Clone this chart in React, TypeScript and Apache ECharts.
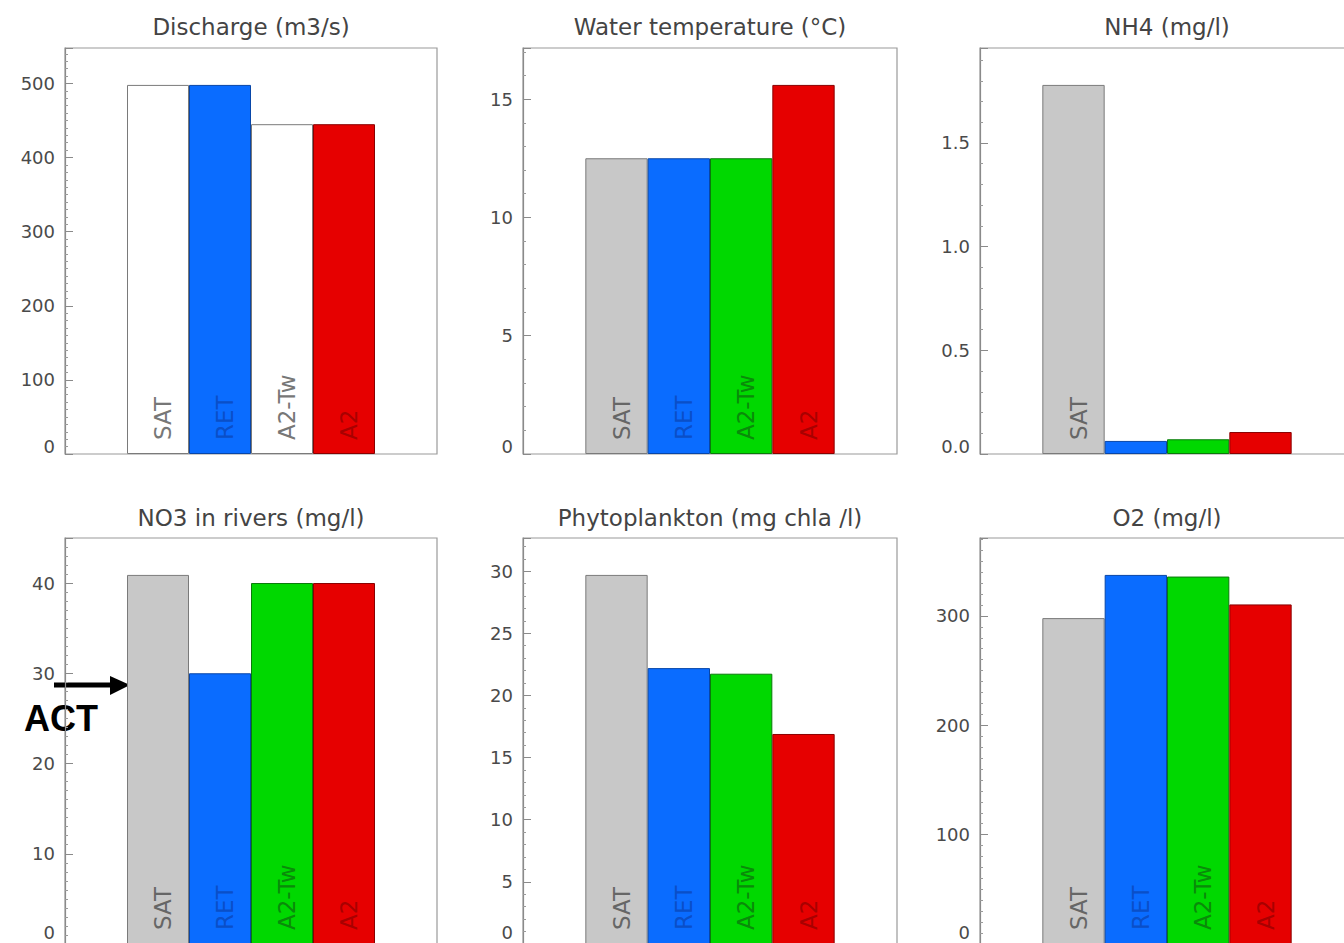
import React, { useEffect, useRef } from "react";
import * as echarts from "echarts";

// ---- data ----
const scenarios = ["SAT", "RET", "A2-Tw", "A2"];
const categories = ["", "SAT", "RET", "A2-Tw", "A2", ""];

const dischargeValues = [498, 498, 445, 445];
const waterTempValues = [12.5, 12.5, 12.5, 15.6];
const nh4Values = [1.78, 0.063, 0.071, 0.106];
const no3Values = [40.9, 30.0, 40.0, 40.0];
const phytoValues = [29.7, 22.2, 21.75, 16.9];
const o2Values = [298, 337.5, 336, 310.5];

const panelTitles = [
  "Discharge (m3/s)",
  "Water temperature (°C)",
  "NH4 (mg/l)",
  "NO3 in rivers (mg/l)",
  "Phytoplankton (mg chla /l)",
  "O2 (mg/l)",
];
const panelValues = [dischargeValues, waterTempValues, nh4Values, no3Values, phytoValues, o2Values];
const panelIntervals = [100, 5, 0.5, 10, 5, 100];
const panelDecimals = [0, 0, 1, 0, 0, 0];
const panelMinorSplits = [10, 5, 5, 10, 5, 10];
// which labels are drawn inside the bars
const panelLabelShown = [
  [true, true, true, true],
  [true, true, true, true],
  [true, false, false, false],
  [true, true, true, true],
  [true, true, true, true],
  [true, true, true, true],
];

// ---- styles ----
const FONT = "DejaVu Sans";
const fillColors = ["#c8c8c8", "#0a6cff", "#00d800", "#e60000"];
const edgeColors = ["#7a7a7a", "#0846a8", "#0a7a0a", "#8a0000"];
const labelColors = ["#666666", "#0a4fc8", "#0a8a0a", "#a80000"];
const dischargeFill = ["#ffffff", "#0a6cff", "#ffffff", "#e60000"];
const dischargeEdge = ["#7a7a7a", "#0846a8", "#7a7a7a", "#8a0000"];
const dischargeLabel = ["#777777", "#0a4fc8", "#777777", "#a80000"];

const colLeft = [65, 523, 980];
const colWidth = [372, 374, 374];
const rowTop = [48, 538];
const rowHeight = [406, 406];
const titleY = [27, 518];
const zeroLabelLift = [16, 24];

const CW = 1360;
const CH = 960;

export default function App() {
  const ref = useRef<HTMLDivElement>(null);
  useEffect(() => {
    if (!ref.current) return;
    const chart = echarts.init(ref.current, null, { renderer: "svg" });

    const grids: any[] = [];
    const xAxes: any[] = [];
    const yAxes: any[] = [];
    const series: any[] = [];
    const graphics: any[] = [];

    panelValues.forEach((vals, i) => {
      const r = Math.floor(i / 3);
      const c = i % 3;
      grids.push({
        left: colLeft[c],
        top: rowTop[r],
        width: colWidth[c],
        height: rowHeight[r],
        show: true,
        borderColor: "#9a9a9a",
        borderWidth: 1.2,
        backgroundColor: "transparent",
      });
      xAxes.push({
        type: "category",
        gridIndex: i,
        data: categories,
        boundaryGap: true,
        axisLine: { show: false },
        axisTick: { show: false },
        axisLabel: { show: false },
        splitLine: { show: false },
      });
      const maxV = Math.max(...vals) * 1.1;
      const dec = panelDecimals[i];
      yAxes.push({
        type: "value",
        gridIndex: i,
        min: 0,
        max: maxV,
        interval: panelIntervals[i],
        axisLine: { show: true, lineStyle: { color: "#8a8a8a", width: 1.2 } },
        axisTick: { show: true, inside: true, length: 8, lineStyle: { color: "#8a8a8a" } },
        minorTick: { show: true, splitNumber: panelMinorSplits[i], length: 3, lineStyle: { color: "#9a9a9a" } },
        splitLine: { show: false },
        axisLabel: {
          showMaxLabel: false,
          margin: 10,
          color: "#4a4a4a",
          fontFamily: FONT,
          fontSize: 18,
          formatter: (v: number) => (v === 0 ? "{z|" + v.toFixed(dec) + "}" : v.toFixed(dec)),
          rich: {
            z: {
              color: "#4a4a4a",
              fontFamily: FONT,
              fontSize: 18,
              padding: [0, 0, zeroLabelLift[r], 0],
            },
          },
        },
      });
      const fills = i === 0 ? dischargeFill : fillColors;
      const edges = i === 0 ? dischargeEdge : edgeColors;
      const lcols = i === 0 ? dischargeLabel : labelColors;
      const data: any[] = ["-"];
      vals.forEach((v, k) => {
        data.push({
          value: v,
          itemStyle: { color: fills[k], borderColor: edges[k], borderWidth: 1 },
          label: {
            show: panelLabelShown[i][k],
            color: lcols[k],
          },
        });
      });
      data.push("-");
      series.push({
        type: "bar",
        xAxisIndex: i,
        yAxisIndex: i,
        data,
        barWidth: "100%",
        barCategoryGap: "0%",
        label: {
          show: true,
          position: "insideBottom",
          distance: 14,
          align: "left",
          verticalAlign: "middle",
          rotate: 90,
          offset: [0, 5],
          fontFamily: FONT,
          fontSize: 23,
          formatter: (p: any) => scenarios[p.dataIndex - 1] || "",
        },
        silent: true,
      });
      graphics.push({
        type: "text",
        x: colLeft[c] + colWidth[c] / 2,
        y: titleY[r],
        style: {
          text: panelTitles[i],
          fill: "#444",
          fontFamily: FONT,
          fontSize: 23,
          textAlign: "center",
          textVerticalAlign: "middle",
        },
      });
    });

    // ACT annotation
    graphics.push({
      type: "line",
      shape: { x1: 54, y1: 685, x2: 112, y2: 685 },
      style: { stroke: "#000", lineWidth: 5 },
    });
    graphics.push({
      type: "polygon",
      shape: { points: [[110, 676], [130, 685], [110, 695]] },
      style: { fill: "#000" },
    });
    graphics.push({
      type: "text",
      x: 24,
      y: 718,
      style: {
        text: "ACT",
        fill: "#000",
        fontFamily: "Liberation Sans",
        fontWeight: "bold",
        fontSize: 36,
        textAlign: "left",
        textVerticalAlign: "middle",
      },
    });

    chart.setOption({
      animation: false,
      backgroundColor: "#ffffff",
      grid: grids,
      xAxis: xAxes,
      yAxis: yAxes,
      series,
      graphic: graphics,
    });
    return () => chart.dispose();
  }, []);

  return (
    <div style={{ position: "fixed", left: 0, top: 0, width: 1344, height: 943, overflow: "hidden", background: "#fff" }}>
      <div ref={ref} style={{ width: CW, height: CH }} />
    </div>
  );
}
